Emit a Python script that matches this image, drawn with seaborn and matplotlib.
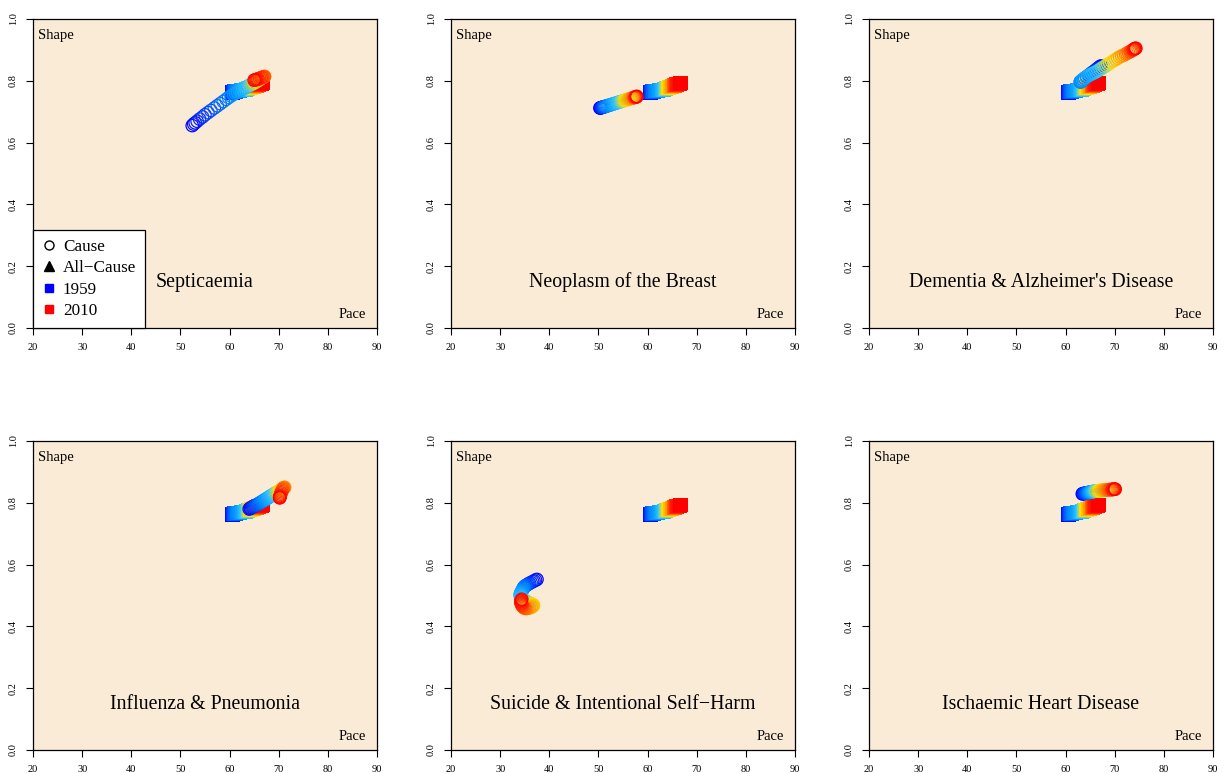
import matplotlib
matplotlib.use("Agg")
import matplotlib.pyplot as plt
from matplotlib.colors import LinearSegmentedColormap
from matplotlib.lines import Line2D
import seaborn as sns
import pandas as pd

# ---------------- data ----------------
years = list(range(1959, 2011))

allcause_pace = [60.5, 60.6, 60.6, 60.7, 60.8, 60.8, 60.9, 61.0, 61.0, 61.1, 61.2, 61.3,
                 61.5, 61.6, 61.8, 62.0, 62.2, 62.4, 62.6, 62.7, 62.9, 63.0,
                 63.2, 63.3, 63.4, 63.5, 63.6, 63.7, 63.8, 64.0, 64.1, 64.2,
                 64.3, 64.5, 64.6, 64.8, 64.9, 65.0, 65.2, 65.3, 65.4, 65.5,
                 65.6, 65.7, 65.8, 65.9, 66.0, 66.1, 66.3, 66.4, 66.6, 66.7]
allcause_shape = [.762, .762, .763, .763, .763, .764, .764, .764, .765, .765, .765, .766,
                  .766, .767, .767, .768, .768, .769, .769, .770, .770, .771,
                  .771, .772, .772, .773, .774, .774, .775, .776, .776, .777,
                  .778, .779, .779, .780, .781, .782, .782, .783, .784, .785,
                  .786, .786, .787, .788, .788, .789, .790, .790, .791, .792]

causes = ["Septicaemia", "Neoplasm of the Breast", "Dementia & Alzheimer's Disease",
          "Influenza & Pneumonia", "Suicide & Intentional Self\u2212Harm", "Ischaemic Heart Disease"]

sept_pace = [52.4, 52.7, 53.0, 53.4, 53.9, 54.5, 55.0, 55.6, 56.2, 56.9, 57.5, 58.1,
             58.7, 59.3, 59.8, 60.3, 60.8, 61.2, 61.6, 62.0, 62.4, 62.7,
             63.0, 63.3, 63.6, 63.9, 64.1, 64.4, 64.6, 64.9, 65.1, 65.4,
             65.6, 65.8, 66.0, 66.2, 66.4, 66.6, 66.8, 67.0, 67.1, 67.1,
             67.0, 66.8, 66.6, 66.4, 66.1, 65.8, 65.6, 65.4, 65.2, 65.0]
sept_shape = [.655, .660, .664, .669, .676, .683, .690, .697, .704, .712, .719, .726,
              .733, .740, .746, .751, .756, .760, .764, .768, .771, .774,
              .776, .779, .781, .784, .786, .788, .790, .792, .794, .797,
              .799, .801, .803, .805, .807, .809, .811, .813, .814, .814,
              .813, .812, .811, .810, .808, .806, .805, .804, .803, .802]

breast_pace = [50.3, 50.4, 50.5, 50.6, 50.7, 50.8, 50.9, 51.0, 51.1, 51.2, 51.3, 51.4,
               51.6, 51.8, 52.0, 52.2, 52.4, 52.6, 52.8, 53.0, 53.2, 53.4,
               53.6, 53.8, 54.0, 54.2, 54.4, 54.6, 54.8, 55.0, 55.2, 55.4,
               55.6, 55.8, 56.0, 56.2, 56.4, 56.6, 56.8, 57.0, 57.1, 57.2,
               57.3, 57.4, 57.5, 57.5, 57.6, 57.6, 57.7, 57.7, 57.8, 57.8]
breast_shape = [.712, .712, .713, .713, .714, .714, .715, .715, .716, .716, .717, .717,
                .718, .719, .720, .721, .722, .723, .724, .725, .726, .727,
                .728, .729, .730, .731, .732, .733, .734, .735, .736, .737,
                .738, .739, .740, .741, .742, .743, .744, .745, .745, .746,
                .746, .747, .747, .747, .748, .748, .748, .749, .749, .749]

dementia_pace = [67.2, 67.0, 66.8, 66.5, 66.2, 65.9, 65.5, 65.1, 64.7, 64.3, 63.9, 63.6,
                 63.3, 63.1, 63.0, 63.0, 63.2, 63.5, 63.8, 64.2, 64.6, 65.0,
                 65.4, 65.8, 66.2, 66.6, 67.0, 67.4, 67.8, 68.2, 68.6, 69.0,
                 69.4, 69.8, 70.2, 70.6, 71.0, 71.4, 71.8, 72.2, 72.5, 72.8,
                 73.1, 73.3, 73.5, 73.7, 73.8, 73.9, 74.0, 74.1, 74.2, 74.3]
dementia_shape = [.848, .846, .843, .840, .836, .832, .828, .823, .818, .813, .808, .803,
                  .799, .797, .796, .797, .800, .804, .808, .812, .816, .820,
                  .823, .826, .829, .833, .837, .841, .845, .849, .853, .857,
                  .861, .865, .869, .873, .877, .880, .883, .886, .889, .892,
                  .894, .896, .898, .900, .901, .902, .903, .904, .905, .905]

flu_pace = [64.0, 64.2, 64.3, 64.5, 64.7, 64.9, 65.1, 65.3, 65.5, 65.7, 65.9, 66.1,
            66.3, 66.5, 66.7, 66.9, 67.1, 67.3, 67.5, 67.7, 67.9, 68.1,
            68.3, 68.5, 68.7, 68.9, 69.1, 69.3, 69.5, 69.7, 69.9, 70.1,
            70.3, 70.5, 70.7, 70.9, 71.0, 71.1, 71.2, 71.1, 71.0, 70.9,
            70.8, 70.7, 70.6, 70.5, 70.4, 70.3, 70.3, 70.2, 70.2, 70.2]
flu_shape = [.780, .782, .783, .785, .787, .788, .790, .792, .793, .795, .797, .799,
             .801, .803, .805, .807, .809, .811, .813, .815, .817, .819,
             .821, .823, .825, .827, .829, .831, .833, .835, .837, .839,
             .841, .843, .845, .847, .848, .849, .850, .849, .848, .846,
             .843, .840, .836, .832, .828, .824, .821, .819, .817, .816]

suicide_pace = [37.5, 37.2, 36.9, 36.6, 36.3, 36.0, 35.8, 35.6, 35.4, 35.2, 35.0, 34.9,
                34.8, 34.7, 34.6, 34.5, 34.4, 34.3, 34.2, 34.1, 34.1, 34.1,
                34.2, 34.3, 34.5, 34.7, 35.0, 35.3, 35.6, 35.9, 36.2, 36.5,
                36.7, 36.8, 36.7, 36.5, 36.3, 36.0, 35.7, 35.4, 35.2, 35.0,
                34.8, 34.6, 34.5, 34.4, 34.3, 34.3, 34.2, 34.2, 34.3, 34.4]
suicide_shape = [.552, .550, .547, .545, .542, .540, .538, .536, .534, .532, .530, .528,
                 .526, .523, .520, .517, .514, .511, .508, .505, .502, .499,
                 .496, .493, .490, .487, .484, .481, .478, .476, .474, .472,
                 .470, .468, .466, .464, .462, .460, .459, .458, .458, .459,
                 .461, .464, .467, .470, .473, .476, .479, .482, .485, .488]

ihd_pace = [63.4, 63.5, 63.6, 63.7, 63.8, 63.9, 64.0, 64.1, 64.2, 64.3, 64.4, 64.5,
            64.6, 64.7, 64.8, 64.9, 65.0, 65.1, 65.2, 65.3, 65.4, 65.5,
            65.6, 65.7, 65.8, 65.9, 66.0, 66.1, 66.2, 66.4, 66.6, 66.8,
            67.0, 67.2, 67.4, 67.6, 67.8, 68.0, 68.2, 68.4, 68.6, 68.8,
            69.0, 69.2, 69.4, 69.5, 69.6, 69.7, 69.8, 69.9, 70.0, 70.1]
ihd_shape = [.829, .829, .830, .830, .830, .831, .831, .831, .832, .832, .832, .833,
             .833, .833, .834, .834, .834, .835, .835, .835, .836, .836,
             .836, .837, .837, .837, .838, .838, .838, .839, .839, .839,
             .840, .840, .840, .841, .841, .841, .842, .842, .842, .842,
             .843, .843, .843, .843, .843, .844, .844, .844, .844, .844]

cause_pace = [sept_pace, breast_pace, dementia_pace, flu_pace, suicide_pace, ihd_pace]
cause_shape = [sept_shape, breast_shape, dementia_shape, flu_shape, suicide_shape, ihd_shape]

x_ticks = [20, 30, 40, 50, 60, 70, 80, 90]
y_ticks = [0.0, 0.2, 0.4, 0.6, 0.8, 1.0]
y_ticklabels = ["0.0", "0.2", "0.4", "0.6", "0.8", "1.0"]

# ---------------- style ----------------
sns.set_style("ticks")
plt.rcParams["font.family"] = ["Liberation Serif", "DejaVu Serif"]
plt.rcParams["text.color"] = "black"
plt.rcParams["xtick.color"] = "black"
plt.rcParams["ytick.color"] = "black"
plt.rcParams["xtick.labelcolor"] = "black"
plt.rcParams["ytick.labelcolor"] = "black"

cmap = LinearSegmentedColormap.from_list(
    "yr", [(0.0, "#0000FF"), (0.3, "#0090FF"), (0.5, "#30C8FF"),
           (0.62, "#FFE000"), (0.75, "#FF9000"), (0.88, "#FF3000"), (1.0, "#FF0000")])
bg = "#FAEBD7"

W, H = 1225, 773
fig = plt.figure(figsize=(W / 100, H / 100), dpi=100)
lefts = [33, 451, 869]
tops = [19, 441]
axw, axh = 344, 309

ac_df = pd.DataFrame({"year": years, "pace": allcause_pace, "shape": allcause_shape})

for i, name in enumerate(causes):
    r, c = divmod(i, 3)
    ax = fig.add_axes([lefts[c] / W, 1 - (tops[r] + axh) / H, axw / W, axh / H])
    ax.set_facecolor(bg)

    sns.scatterplot(data=ac_df, x="pace", y="shape", hue="year", palette=cmap,
                    hue_norm=(1959, 2010), marker="s", s=105, linewidth=0,
                    legend=False, ax=ax, zorder=2)

    cdf = pd.DataFrame({"year": years, "pace": cause_pace[i], "shape": cause_shape[i]})
    sns.scatterplot(data=cdf, x="pace", y="shape", hue="year", palette=cmap,
                    hue_norm=(1959, 2010), marker="o", s=80, legend=False, ax=ax, zorder=3)
    coll = ax.collections[-1]
    fcs = coll.get_facecolors()
    coll.set_edgecolors(fcs)
    coll.set_facecolors("none")
    coll.set_linewidths(0.85)

    ax.set_xlim(20, 90)
    ax.set_ylim(0, 1)
    ax.set_xticks(x_ticks)
    ax.set_xticklabels([str(t) for t in x_ticks])
    ax.set_yticks(y_ticks)
    ax.set_yticklabels(y_ticklabels, rotation=90, va="center")
    ax.tick_params(axis="both", labelsize=7.5, length=5, width=0.8, pad=6,
                   color="black", labelcolor="black")
    ax.set_xlabel("")
    ax.set_ylabel("")
    for sp in ax.spines.values():
        sp.set_visible(True)
        sp.set_color("black")
        sp.set_linewidth(0.9)

    ax.text(0.015, 0.945, "Shape", transform=ax.transAxes, fontsize=10.5,
            ha="left", va="center", color="black")
    ax.text(0.968, 0.045, "Pace", transform=ax.transAxes, fontsize=10.5,
            ha="right", va="center", color="black")
    ax.text(0.5, 0.148, name, transform=ax.transAxes, fontsize=14.3,
            ha="center", va="center", color="black")

    if i == 0:
        handles = [
            Line2D([], [], ls="none", marker="o", mfc="none", mec="black", ms=6.5, mew=1.0),
            Line2D([], [], ls="none", marker="^", mfc="black", mec="black", ms=7.5),
            Line2D([], [], ls="none", marker="s", mfc="#0000FF", mec="#0000FF", ms=6),
            Line2D([], [], ls="none", marker="s", mfc="#FF0000", mec="#FF0000", ms=6),
        ]
        labels = ["Cause", "All\u2212Cause", "1959", "2010"]
        leg = ax.legend(handles, labels, loc="lower left", bbox_to_anchor=(0, 0),
                        borderaxespad=0, frameon=True, fancybox=False,
                        edgecolor="black", framealpha=1, facecolor="white",
                        prop={"size": 12.3}, handlelength=0.9, handletextpad=0.35,
                        labelspacing=0.33, borderpad=0.5, labelcolor="black")
        leg.get_frame().set_linewidth(0.9)
        leg.set_zorder(5)

fig.savefig("out.png", dpi=100)
